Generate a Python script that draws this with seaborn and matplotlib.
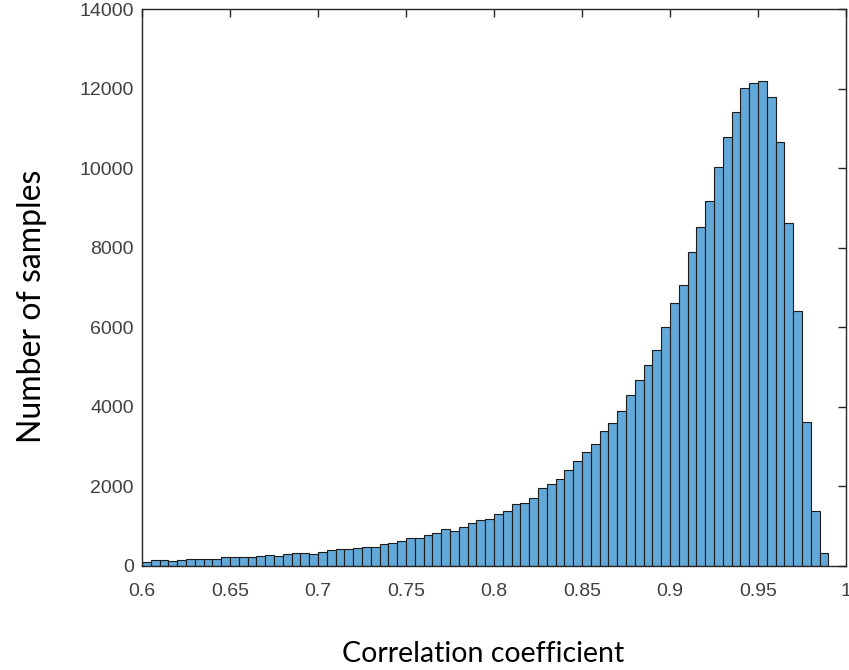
import numpy as np
import pandas as pd
import matplotlib
matplotlib.use("Agg")
import matplotlib.pyplot as plt
import seaborn as sns

# Histogram of correlation coefficients: bin counts per 0.005-wide bin from 0.6 to 0.99
bin_start = 0.6
bin_stop = 0.99
counts = [
    110, 140, 140, 125, 140, 170, 170, 170, 170, 235,
    220, 220, 235, 250, 285, 250, 300, 325, 325, 300,
    360, 400, 427, 427, 445, 485, 485, 553, 570, 628,
    695, 695, 780, 820, 920, 870, 970, 1070, 1155, 1175,
    1300, 1390, 1560, 1590, 1700, 1950, 2050, 2185, 2410, 2650,
    2860, 3060, 3400, 3585, 3895, 4300, 4675, 5050, 5430, 6000,
    6600, 7070, 7900, 8510, 9180, 10020, 10775, 11400, 12020, 12130,
    12190, 11780, 10660, 8610, 6410, 3610, 1380, 320,
]
x_ticks = [0.6, 0.65, 0.7, 0.75, 0.8, 0.85, 0.9, 0.95, 1.0]
x_tick_labels = ["0.6", "0.65", "0.7", "0.75", "0.8", "0.85", "0.9", "0.95", "1"]
y_ticks = [0, 2000, 4000, 6000, 8000, 10000, 12000, 14000]

n_bins = len(counts)
edges = np.linspace(bin_start, bin_stop, n_bins + 1)
centers = (edges[:-1] + edges[1:]) / 2
df = pd.DataFrame({"r": centers, "n": counts})

sns.set_style("white")
plt.rcParams["font.family"] = ["Liberation Sans", "DejaVu Sans"]

fig = plt.figure(figsize=(8.49, 6.70), dpi=100)
ax = fig.add_axes([142 / 849, 104 / 670, 704 / 849, 557 / 670])

sns.histplot(data=df, x="r", weights="n", bins=n_bins,
             binrange=(bin_start, bin_stop), ax=ax,
             color="#62A8D8", alpha=1.0, edgecolor="#1c1c1c", linewidth=0.8)

ax.set_xlim(0.6, 1.0)
ax.set_ylim(0, 14000)
ax.set_xticks(x_ticks)
ax.set_xticklabels(x_tick_labels)
ax.set_yticks(y_ticks)
ax.tick_params(axis="both", direction="in", length=6, width=1,
               colors="#262626", labelcolor="#404040", labelsize=14,
               top=True, right=True)
ax.tick_params(axis="x", pad=12)
ax.tick_params(axis="y", pad=6)
for lbl in ax.get_xticklabels() + ax.get_yticklabels():
    lbl.set_family(["Liberation Sans", "DejaVu Sans"])
for side in ["left", "right", "top", "bottom"]:
    ax.spines[side].set_visible(True)
    ax.spines[side].set_color("#262626")
    ax.spines[side].set_linewidth(1.0)

ax.set_xlabel("Correlation coefficient", fontsize=20.5, family=["Lato", "DejaVu Sans"],
              color="black", labelpad=30)
ax.set_ylabel("Number of samples", fontsize=23, family=["Lato", "DejaVu Sans"],
              color="black", labelpad=23)
ax.xaxis.label.set_x(0.485)
ax.yaxis.label.set_y(0.467)

fig.savefig("out.png", dpi=100)
